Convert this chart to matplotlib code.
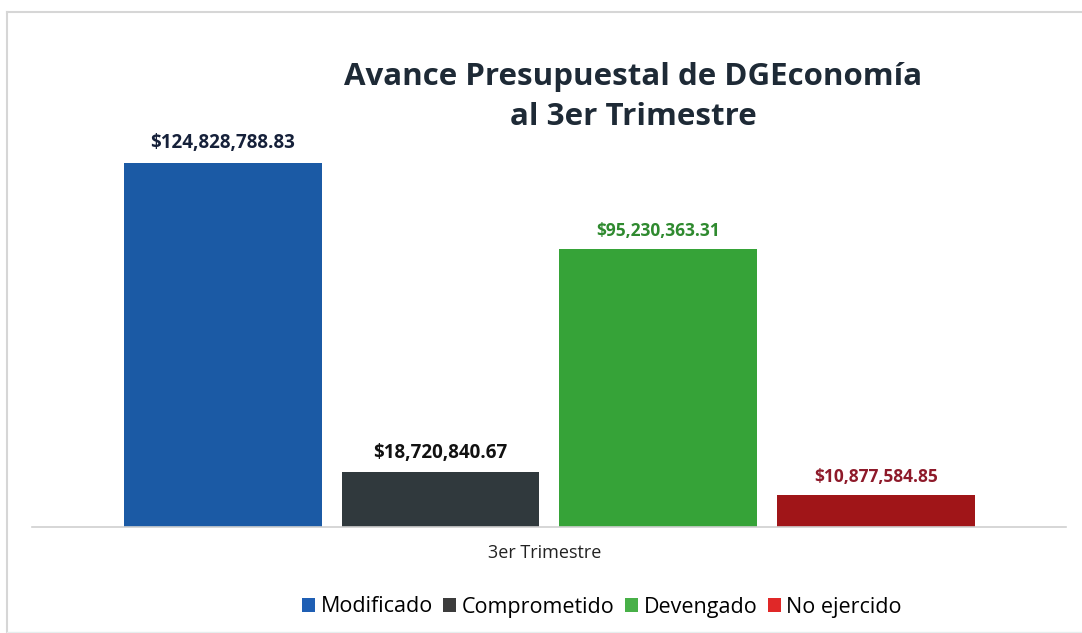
import matplotlib
matplotlib.use("Agg")
import matplotlib.pyplot as plt
from matplotlib.lines import Line2D
from matplotlib.patches import Patch

series = ["Modificado", "Comprometido", "Devengado", "No ejercido"]
values = [124828788.83, 18720840.67, 95230363.31, 10877584.85]
labels = ["$124,828,788.83", "$18,720,840.67", "$95,230,363.31", "$10,877,584.85"]
category = "3er Trimestre"
title = "Avance Presupuestal de DGEconomía\nal 3er Trimestre"

bar_colors = ["#1b5aa5", "#30393d", "#36a338", "#a01518"]
legend_colors = ["#1f5fb4", "#3c3c3c", "#48b048", "#e02828"]
label_colors = ["#16213a", "#111111", "#2f8a2f", "#8e1a2a"]

W, H = 1082, 633
fig = plt.figure(figsize=(W / 100, H / 100), dpi=100)
fig.patch.set_facecolor("white")

# outer light border (left, top, faint bottom)
fig.add_artist(Line2D([7 / W, 7 / W], [0, 1 - 12 / H], transform=fig.transFigure,
                      color="#d6d6d6", linewidth=1.5))
fig.add_artist(Line2D([7 / W, 1], [1 - 12 / H, 1 - 12 / H], transform=fig.transFigure,
                      color="#d6d6d6", linewidth=1.5))
fig.add_artist(Line2D([7 / W, 1], [1 / H, 1 / H], transform=fig.transFigure,
                      color="#e6eeee", linewidth=1.0))

ax = fig.add_axes([32 / W, 1 - 527 / H, (1066 - 32) / W, (527 - 40) / H])
x = list(range(len(values)))
ax.bar(x, values, width=0.908, color=bar_colors, zorder=2)
ax.set_xlim(-0.876, 3.874)
ax.set_ylim(0, values[0] * 487 / 364)

sizes = [13.5, 13.5, 12.5, 12.5]
for xi, v, lab, c, fs in zip(x, values, labels, label_colors, sizes):
    ax.annotate(lab, (xi, v), xytext=(0, 7), textcoords="offset points",
                ha="center", va="bottom", fontsize=fs, fontweight="bold",
                color=c, family=["Open Sans", "DejaVu Sans"])

for s in ["top", "right", "left"]:
    ax.spines[s].set_visible(False)
ax.spines["bottom"].set_color("#d0d0d0")
ax.spines["bottom"].set_linewidth(1.2)
ax.set_yticks([])
ax.set_xticks([])
ax.set_facecolor("white")

fig.text(545 / W, 1 - 553 / H, category, ha="center", va="center",
         fontsize=13, color="#222222", fontweight="medium",
         family=["Open Sans", "DejaVu Sans"])

fig.text(633 / W, 1 - 97 / H, title, ha="center", va="center", fontsize=22.5,
         fontweight="bold", color="#1e2a36", linespacing=1.45,
         family=["Open Sans", "DejaVu Sans"])

handles = [Patch(facecolor=c, edgecolor="none") for c in legend_colors]
fig.legend(handles, series, loc="center", bbox_to_anchor=(602 / W, 1 - 607 / H),
           ncol=4, frameon=False, handlelength=0.6, handleheight=0.6,
           handletextpad=0.25, columnspacing=0.5,
           prop={"family": ["Open Sans", "DejaVu Sans"], "size": 15.5, "weight": "medium"})

fig.savefig("out.png", dpi=100, facecolor="white")
